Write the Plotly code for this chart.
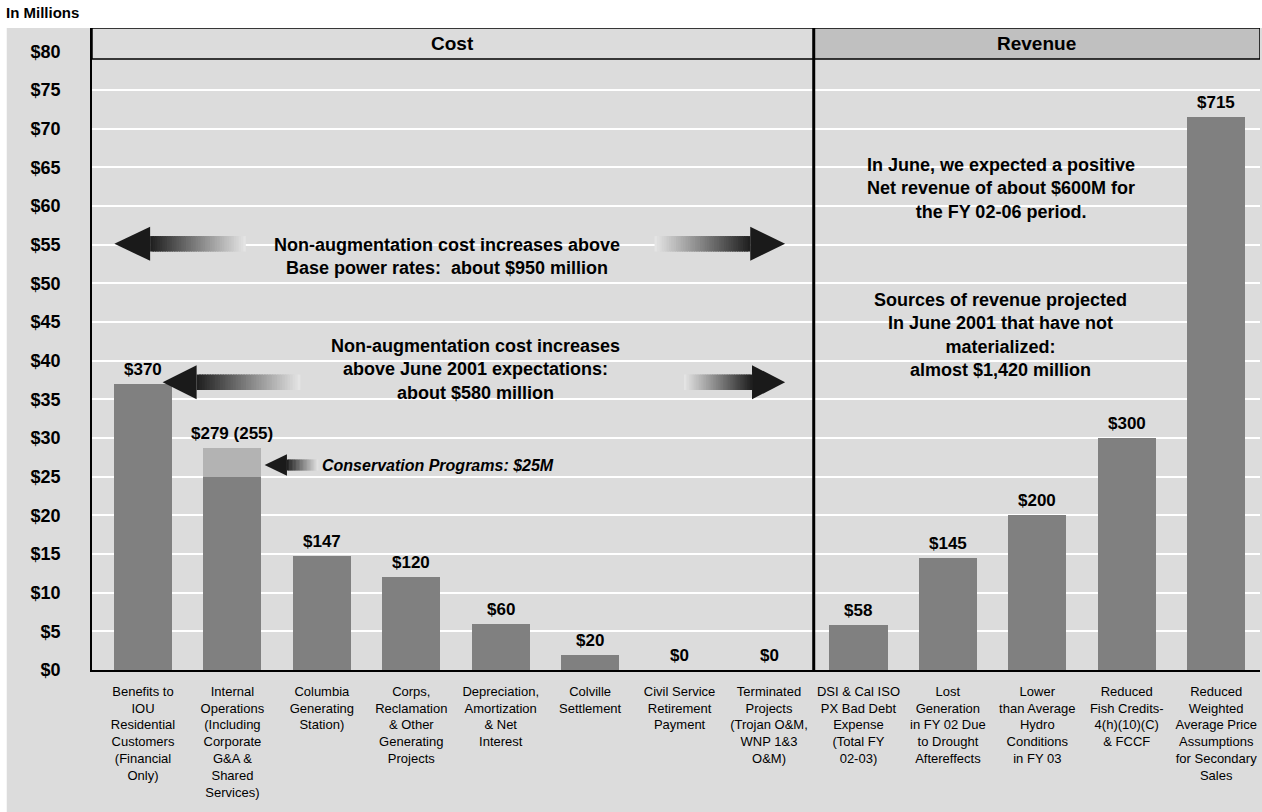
import plotly.graph_objects as go

# ---------------- data ----------------
categories = [
    "Benefits to<br>IOU<br>Residential<br>Customers<br>(Financial<br>Only)",
    "Internal<br>Operations<br>(Including<br>Corporate<br>G&A &<br>Shared<br>Services)",
    "Columbia<br>Generating<br>Station)",
    "Corps,<br>Reclamation<br>& Other<br>Generating<br>Projects",
    "Depreciation,<br>Amortization<br>& Net<br>Interest",
    "Colville<br>Settlement",
    "Civil Service<br>Retirement<br>Payment",
    "Terminated<br>Projects<br>(Trojan O&M,<br>WNP 1&3<br>O&M)",
    "DSI & Cal ISO<br>PX Bad Debt<br>Expense<br>(Total FY<br>02-03)",
    "Lost<br>Generation<br>in FY 02 Due<br>to Drought<br>Aftereffects",
    "Lower<br>than Average<br>Hydro<br>Conditions<br>in FY 03",
    "Reduced<br>Fish Credits-<br>4(h)(10)(C)<br>& FCCF",
    "Reduced<br>Weighted<br>Average Price<br>Assumptions<br>for Secondary<br>Sales",
]
base_values = [37.0, 25.0, 14.7, 12.0, 6.0, 2.0, 0.0, 0.0, 5.8, 14.5, 20.0, 30.0, 71.5]
conservation_values = [0, 3.7, 0, 0, 0, 0, 0, 0, 0, 0, 0, 0, 0]
bar_labels = ["$370", "$279 (255)", "$147", "$120", "$60", "$20", "$0", "$0",
              "$58", "$145", "$200", "$300", "$715"]
y_tickvals = list(range(0, 85, 5))
y_ticktext = [f"${v}" for v in y_tickvals]

FONT = "Liberation Sans Narrow, Arial Narrow, Liberation Sans, Arial, sans-serif"
BG = "#dcdcdc"
BAR = "#808080"
BAR_LIGHT = "#b3b3b3"

x = list(range(len(categories)))
totals = [b + c for b, c in zip(base_values, conservation_values)]

fig = go.Figure()
fig.add_trace(go.Bar(x=x, y=base_values, marker=dict(color=BAR, line=dict(width=0)),
                     width=0.65, hoverinfo="skip"))
fig.add_trace(go.Bar(x=x, y=conservation_values, marker=dict(color=BAR_LIGHT, line=dict(width=0)),
                     width=0.65, hoverinfo="skip"))

XMIN, XMAX = -0.57, 12.49
YMAX = 83.0
SEP = 7.5

# bar value labels
for i, (t, lab) in enumerate(zip(totals, bar_labels)):
    fig.add_annotation(x=i, y=t, text=f"<b>{lab}</b>", showarrow=False, yanchor="bottom",
                       yshift=3, font=dict(family=FONT, size=17, color="black"))

shapes = []
# full gray background
shapes.append(dict(type="rect", xref="paper", yref="paper", x0=-0.073, x1=1.002, y0=-0.222, y1=1.0,
                   fillcolor=BG, line=dict(width=0), layer="below"))
# header boxes
shapes.append(dict(type="rect", xref="x", yref="y", x0=XMIN, x1=SEP, y0=79.0, y1=YMAX,
                   fillcolor=BG, line=dict(color="black", width=1.5), layer="above"))
shapes.append(dict(type="rect", xref="x", yref="y", x0=SEP, x1=XMAX, y0=79.0, y1=YMAX,
                   fillcolor="#c0c0c0", line=dict(color="black", width=1.5), layer="above"))
# separator line
shapes.append(dict(type="line", xref="x", yref="y", x0=SEP, x1=SEP, y0=0, y1=YMAX,
                   line=dict(color="black", width=3), layer="above"))


def hex_mix(c1, c2, t):
    a = [int(c1[i:i + 2], 16) for i in (1, 3, 5)]
    b = [int(c2[i:i + 2], 16) for i in (1, 3, 5)]
    m = [round(a[k] + (b[k] - a[k]) * t) for k in range(3)]
    return "#%02x%02x%02x" % tuple(m)


def grad_arrow(yc, tip, head_base, shaft_end, head_h, shaft_h, n=40):
    dark, light = "#1e1e1e", "#e6e6e6"
    step = (shaft_end - head_base) / n
    for k in range(n):
        t0 = k / n
        xa = head_base + step * k
        xb = head_base + step * (k + 1.6)
        if k == n - 1:
            xb = shaft_end
        col = hex_mix(dark, light, t0 + 0.5 / n)
        shapes.append(dict(type="rect", xref="x", yref="y", x0=min(xa, xb), x1=max(xa, xb),
                           y0=yc - shaft_h, y1=yc + shaft_h, fillcolor=col,
                           line=dict(width=0), layer="above"))
    shapes.append(dict(type="path", xref="x", yref="y",
                       path=f"M {tip} {yc} L {head_base} {yc + head_h} L {head_base} {yc - head_h} Z",
                       fillcolor="#1a1a1a", line=dict(width=0), layer="above"))


# arrows (decorations)
grad_arrow(55.1, -0.32, 0.08, 1.15, 2.2, 1.0)
grad_arrow(55.1, 7.18, 6.79, 5.72, 2.2, 1.0)
grad_arrow(37.2, 0.22, 0.60, 1.76, 2.2, 1.0)
grad_arrow(37.2, 7.18, 6.81, 6.05, 2.2, 1.0)
grad_arrow(26.5, 1.36, 1.61, 1.96, 1.4, 0.7)

texts = [
    (3.40, 53.4, "<b>Non-augmentation cost increases above<br>Base power rates:  about $950 million</b>"),
    (3.72, 38.8, "<b>Non-augmentation cost increases<br>above June 2001 expectations:<br>about $580 million</b>"),
    (9.59, 62.3, "<b>In June, we expected a positive<br>Net revenue of about $600M for<br>the FY 02-06 period.</b>"),
    (9.59, 43.3, "<b>Sources of revenue projected<br>In June 2001 that have not<br>materialized:<br>almost $1,420 million</b>"),
]
for tx, ty, tt in texts:
    fig.add_annotation(x=tx, y=ty, text=tt, showarrow=False, align="center", xanchor="center",
                       yanchor="middle", font=dict(family=FONT, size=18, color="black"))

fig.add_annotation(x=1.98, y=26.5, text="<b><i>Conservation Programs: $25M</i></b>", showarrow=False,
                   xanchor="left", yanchor="middle", font=dict(family=FONT, size=16, color="black"))

# headers
fig.add_annotation(x=(XMIN + SEP) / 2, y=81.0, text="<b>Cost</b>", showarrow=False,
                   font=dict(family=FONT, size=19, color="black"))
fig.add_annotation(x=(SEP + XMAX) / 2, y=81.0, text="<b>Revenue</b>", showarrow=False,
                   font=dict(family=FONT, size=19, color="black"))

fig.add_annotation(xref="paper", yref="paper", x=-0.075, y=1.008, text="<b>In Millions</b>",
                   showarrow=False, xanchor="left", yanchor="bottom",
                   font=dict(family=FONT, size=15, color="black"))

fig.update_layout(
    width=1262, height=812,
    margin=dict(l=92, r=2, t=28, b=142),
    paper_bgcolor="white", plot_bgcolor=BG,
    barmode="stack", showlegend=False, bargap=0.35,
    shapes=shapes,
    font=dict(family=FONT, color="black"),
)
fig.update_xaxes(range=[XMIN, XMAX], tickvals=x, ticktext=categories, showgrid=False,
                 tickfont=dict(family=FONT, size=13, color="black"), tickangle=0,
                 ticklabelstandoff=8,
                 showline=True, linecolor="black", linewidth=2, ticks="", zeroline=False,
                 fixedrange=True)
fig.update_yaxes(range=[0, YMAX], tickvals=y_tickvals, ticktext=[f"<b>{t}</b>" for t in y_ticktext],
                 showgrid=True, gridcolor="white", gridwidth=2, zeroline=False,
                 tickfont=dict(family=FONT, size=18, color="black"), ticklabelstandoff=26,
                 showline=True, linecolor="black", linewidth=1.5, ticks="", fixedrange=True)

fig.write_html("out.html", config={"displayModeBar": False},
               post_script="document.body.style.margin='0px';document.body.style.overflow='hidden';")
